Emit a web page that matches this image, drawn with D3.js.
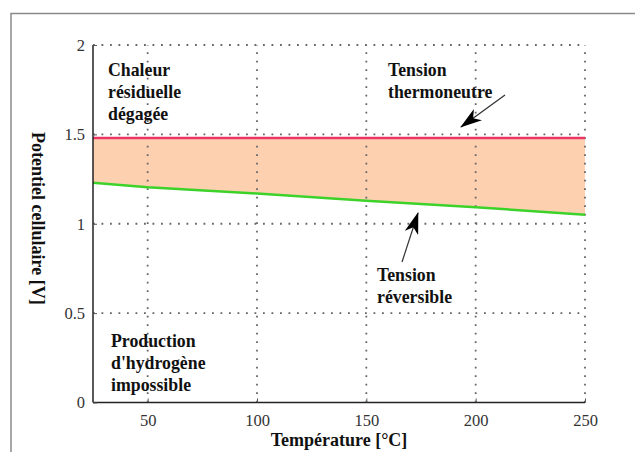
<!DOCTYPE html>
<html>
<head>
<meta charset="utf-8">
<script src="https://cdn.jsdelivr.net/npm/d3@7"></script>
<style>
	body { margin: 0; background: #fff; }
	svg { display: block; font-family: "Liberation Serif", "DejaVu Serif", serif; }
</style>
</head>
<body>
<svg id="chart" width="635" height="452"></svg>
<script>
	// Data
	let temperatures = [25, 50, 100, 150, 200, 250];
	let reversible = [1.230, 1.204, 1.169, 1.129, 1.092, 1.051];
	let thermoneutral = [1.48, 1.48, 1.48, 1.48, 1.48, 1.48];
	let xTicks = [50, 100, 150, 200, 250];
	let yTicks = [0, 0.5, 1, 1.5, 2];

	let margin = { top: 45, right: 50, bottom: 49.5, left: 93 };
	let width = 635 - margin.left - margin.right;
	let height = 452 - margin.top - margin.bottom;

	let svg = d3.select("#chart");

	// Outer frame (only top and left visible)
	svg.append("path")
		.attr("d", "M11,452 L11,13.5 L635,13.5")
		.attr("fill", "none")
		.attr("stroke", "#8a8a8a")
		.attr("stroke-width", 1.5);

	let g = svg.append("g").attr("transform", `translate(${margin.left},${margin.top})`);

	let xScale = d3.scaleLinear().domain([25, 250]).range([0, width]);
	let yScale = d3.scaleLinear().domain([0, 2]).range([height, 0]);

	let rows = temperatures.map((t, i) => ({ t: t, rev: reversible[i], th: thermoneutral[i] }));

	// Band between reversible and thermoneutral voltage
	let area = d3.area()
		.x(d => xScale(d.t))
		.y0(d => yScale(d.rev))
		.y1(d => yScale(d.th));

	g.append("path")
		.datum(rows)
		.attr("d", area)
		.attr("fill", "#fdd0b0");

	// Dotted grid
	let grid = g.append("g")
		.attr("stroke", "#666")
		.attr("stroke-width", 1.8)
		.attr("stroke-dasharray", "1.8,6.7");

	grid.selectAll(".gx")
		.data(xTicks)
		.enter()
		.append("line")
		.attr("x1", d => xScale(d))
		.attr("x2", d => xScale(d))
		.attr("y1", height)
		.attr("y2", 0);

	grid.selectAll(".gy")
		.data(yTicks.filter(d => d > 0))
		.enter()
		.append("line")
		.attr("x1", 0)
		.attr("x2", width)
		.attr("y1", d => yScale(d))
		.attr("y2", d => yScale(d));

	// Curves
	let line = key => d3.line().x(d => xScale(d.t)).y(d => yScale(d[key]));

	g.append("path")
		.datum(rows)
		.attr("d", line("th"))
		.attr("fill", "none")
		.attr("stroke", "#ec3564")
		.attr("stroke-width", 2.5);

	g.append("path")
		.datum(rows)
		.attr("d", line("rev"))
		.attr("fill", "none")
		.attr("stroke", "#3dd22a")
		.attr("stroke-width", 2.5);

	// Axes
	let xAxis = g.append("g")
		.attr("transform", `translate(0,${height})`)
		.call(d3.axisBottom(xScale).tickValues(xTicks).tickSizeInner(-4).tickSizeOuter(0).tickPadding(12));

	let yAxis = g.append("g")
		.call(d3.axisLeft(yScale).tickValues(yTicks).tickFormat(d3.format("")).tickSizeInner(-4).tickSizeOuter(0).tickPadding(8));

	[xAxis, yAxis].forEach(a => {
		a.select(".domain").attr("stroke", "#222").attr("stroke-width", 1.5);
		a.selectAll(".tick line").attr("stroke", "#555").attr("stroke-width", 1);
		a.selectAll(".tick text")
			.attr("font-family", "Liberation Serif, serif")
			.attr("font-size", 16.5)
			.attr("fill", "#333");
	});
	xAxis.select(".domain").attr("d", `M0,0H${width}`);
	yAxis.select(".domain").attr("d", `M0,${height}V0`);

	// Axis titles
	g.append("text")
		.attr("x", xScale(137.5))
		.attr("y", height + 43.5)
		.attr("text-anchor", "middle")
		.attr("font-weight", "bold")
		.attr("font-size", 18)
		.attr("fill", "#111")
		.text("Température [°C]");

	g.append("text")
		.attr("transform", `translate(${32 - margin.left},${yScale(1.03)}) rotate(90)`)
		.attr("text-anchor", "middle")
		.attr("font-weight", "bold")
		.attr("font-size", 18)
		.attr("fill", "#111")
		.text("Potentiel cellulaire [V]");

	// Annotations
	let notes = [
		{ x: 108, y: 76, lines: ["Chaleur", "résiduelle", "dégagée"] },
		{ x: 388, y: 76, lines: ["Tension", "thermoneutre"] },
		{ x: 377, y: 281, lines: ["Tension", "réversible"] },
		{ x: 111, y: 347, lines: ["Production", "d'hydrogène", "impossible"] }
	];

	notes.forEach(n => {
		let t = svg.append("text")
			.attr("x", n.x)
			.attr("y", n.y)
			.attr("font-weight", "bold")
			.attr("font-size", 17.8)
			.attr("fill", "#111");
		n.lines.forEach((l, i) => {
			t.append("tspan")
				.attr("x", n.x)
				.attr("dy", i === 0 ? 0 : 22)
				.text(l);
		});
	});

	// Arrows
	svg.append("defs").append("marker")
		.attr("id", "head")
		.attr("viewBox", "0 0 22 14")
		.attr("refX", 21)
		.attr("refY", 7)
		.attr("markerWidth", 22)
		.attr("markerHeight", 14)
		.attr("markerUnits", "userSpaceOnUse")
		.attr("orient", "auto")
		.append("path")
		.attr("d", "M0,0 L22,7 L0,14 L6,7 Z")
		.attr("fill", "#000");

	let arrows = [
		[[505, 95], [461, 127]],
		[[402, 262], [418, 213]]
	];

	svg.selectAll(".arrow")
		.data(arrows)
		.enter()
		.append("line")
		.attr("x1", d => d[0][0])
		.attr("y1", d => d[0][1])
		.attr("x2", d => d[1][0])
		.attr("y2", d => d[1][1])
		.attr("stroke", "#333")
		.attr("stroke-width", 1.2)
		.attr("marker-end", "url(#head)");
</script>
</body>
</html>
